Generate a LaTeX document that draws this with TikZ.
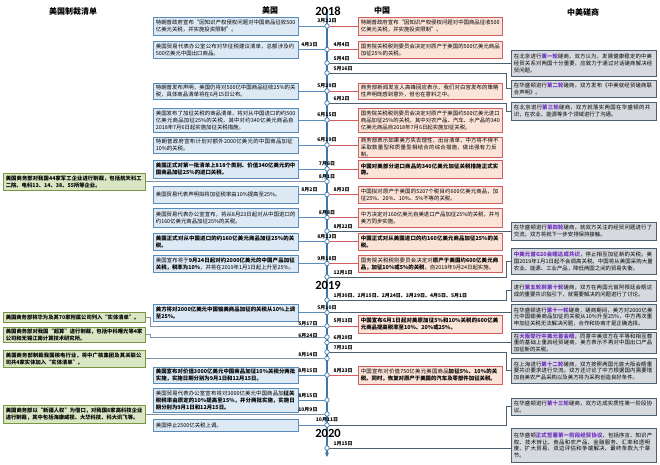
\documentclass[tikz,border=0pt]{standalone}
\usepackage{fontspec}
\setmainfont{Noto Sans CJK SC}
\newfontfamily\yearfont{Carlito}
\usetikzlibrary{arrows.meta}
\XeTeXlinebreaklocale "zh"
\XeTeXlinebreakskip=0pt plus 1pt

\definecolor{tline}{HTML}{3F77A8}
\definecolor{usfill}{HTML}{DDEAF6}
\definecolor{usdraw}{HTML}{5A8CBA}
\definecolor{cnfill}{HTML}{FBE3D8}
\definecolor{cndraw}{HTML}{D25F5F}
\definecolor{csfill}{HTML}{D6D9DE}
\definecolor{csdraw}{HTML}{4F5F72}
\definecolor{gnfill}{HTML}{D9E6C3}
\definecolor{gndraw}{HTML}{7A9645}
\definecolor{gnline}{HTML}{8093AA}
\definecolor{hlc}{HTML}{7030C0}
\newcommand\hilite[1]{\textbf{\color{hlc}#1}}

\tikzset{
  box/.style={draw, line width=0.7pt, anchor=north west, inner xsep=2.5pt, inner ysep=0.5pt,
    align=left, font=\fontsize{5.4}{6.9}\selectfont},
  bbox/.style={font=\bfseries\fontsize{5.4}{6.9}\selectfont},
  usbox/.style={box, fill=usfill, draw=usdraw, text width=140pt},
  cnbox/.style={box, fill=cnfill, draw=cndraw, text width=139pt},
  csbox/.style={box, fill=csfill, draw=csdraw, text width=140pt},
  gnbox/.style={box, fill=gnfill, draw=gndraw, text width=137pt, font=\bfseries\fontsize{5.3}{6.8}\selectfont},
  uslink/.style={draw=usdraw, line width=0.8pt},
  cnlink/.style={draw=cndraw, line width=0.8pt},
  cslink/.style={draw=csdraw, line width=0.8pt},
  gnlink/.style={draw=gnline, line width=0.8pt},
  dot/.style={circle, draw=tline, fill=white, line width=0.7pt, inner sep=0pt, minimum size=4.5pt},
  dlab/.style={inner sep=0.3pt, font=\bfseries\fontsize{5}{5}\selectfont},
  dc/.style={dlab, anchor=south},
  dl/.style={dlab, anchor=south east},
  dr/.style={dlab, anchor=south west},
  head/.style={inner sep=0pt, font=\bfseries\fontsize{8}{8}\selectfont},
  year/.style={inner sep=0pt, font=\yearfont\bfseries\fontsize{12.5}{12.5}\selectfont},
}

\begin{document}
\begin{tikzpicture}[x=1pt,y=-1pt]
\useasboundingbox[fill=white] (0,0) rectangle (660,464);

% headers
\node[head] (h1) at (73,11) {美国制裁清单};
\node[head] (h2) at (270,10) {美国};
\node[head] (h3) at (382,10) {中国};
\node[head] (h4) at (583,12) {中美磋商};

% timeline coordinates
\coordinate (ttop) at (327,9);
\coordinate (tbot) at (327,457);
\coordinate (kx) at (506,0);
\coordinate (gx) at (150,0);
\coordinate (e1) at (327,26);
\coordinate (e2) at (327,49.5);
\coordinate (e3) at (327,63);
\coordinate (e4) at (327,73);
\coordinate (e5) at (327,91);
\coordinate (e6) at (327,103);
\coordinate (e7) at (327,120);
\coordinate (e8) at (327,145);
\coordinate (e9) at (327,169);
\coordinate (e10) at (327,181.5);
\coordinate (e11) at (327,194.5);
\coordinate (e12) at (327,217.5);
\coordinate (e13) at (327,231);
\coordinate (e14) at (327,241.5);
\coordinate (e15) at (327,263.5);
\coordinate (e16) at (327,277);
\coordinate (e17) at (327,300);
\coordinate (e18) at (327,312.5);
\coordinate (e19) at (327,326);
\coordinate (e20) at (327,337);
\coordinate (e21) at (327,342.5);
\coordinate (e22) at (327,352);
\coordinate (e23) at (327,358.5);
\coordinate (e24) at (327,375);
\coordinate (e25) at (327,400);
\coordinate (e26) at (327,414);
\coordinate (e27) at (327,425);
\coordinate (e28) at (327,448);

% US boxes
\node[usbox, minimum height=18pt] (u1) at (153,17) {特朗普政府宣布“因知识产权侵权问题对中国商品征收500亿美元关税，并实施投资限制”。};
\node[usbox, minimum height=17pt] (u2) at (153,41) {美国贸易代表办公室公布对华征税建议清单，总额涉及约500亿美元中国出口商品。};
\node[usbox, minimum height=16pt] (u3) at (153,83) {特朗普发布声明，美国仍将对500亿中国商品征收25\%的关税，具体商品清单将在6月15日公布。};
\node[usbox, minimum height=24pt] (u4) at (153,108) {美国发布了加征关税的商品清单，将对从中国进口的约500亿美元商品加征25\%的关税，其中对约340亿美元商品自2018年7月6日起实施加征关税措施。};
\node[usbox, minimum height=16pt] (u5) at (153,137) {特朗普政府宣布计划对额外2000亿美元的中国商品加征10\%的关税。};
\node[usbox, bbox, minimum height=18pt] (u6) at (153,160) {美国正式对第一批清单上818个类别、价值340亿美元的中国商品加征25\%的进口关税。};
\node[usbox, minimum height=17pt] (u7) at (153,186) {美国贸易代表声明拟将加征税率由10\%提高至25\%。};
\node[usbox, minimum height=19pt] (u8) at (153,208) {美国贸易代表办公室宣布，将从8月23日起对从中国进口的约160亿美元商品加征25\%的关税。};
\node[usbox, bbox, minimum height=17pt] (u9) at (153,233) {美国正式对从中国进口的约160亿美元商品加征25\%的关税。};
\node[usbox, minimum height=17pt] (u10) at (153,255) {美国宣布将于\textbf{9月24日起对约2000亿美元的中国产品加征关税，税率为10\%}，并将在2019年1月1日起上升至25\%。};
\node[usbox, bbox, minimum height=17pt] (u11) at (153,304) {美方将对2000亿美元中国输美商品加征的关税从10\%上调至25\%。};
\node[usbox, bbox, minimum height=16pt] (u12) at (153,367) {美国宣布对价值3000亿美元中国商品加征10\%关税分两批实施，实施日期分别为9月1日和12月15日。};
\node[usbox, minimum height=24pt] (u13) at (153,388) {美国贸易代表办公室宣布将对3000亿美元中国商品加\textbf{征关税税率由原定的10\%提高至15\%，并分两批实施，实施日期分别为9月1日和12月15日。}};
\node[usbox, minimum height=12pt] (u14) at (153,419) {美国停止2500亿关税上调。};

% China boxes
\node[cnbox, minimum height=18pt] (c1) at (358,17) {特朗普政府宣布“因知识产权侵权问题对中国商品征收500亿美元关税，并实施投资限制”。};
\node[cnbox, minimum height=17pt] (c2) at (358,41) {国务院关税税则委员会决定对原产于美国的500亿美元商品加征25\%的关税。};
\node[cnbox, minimum height=16pt] (c3) at (358,83) {商务部新闻发言人高峰回应表示，我们对白宫发布的策略性声明既感到意外，但也在意料之中。};
\node[cnbox, minimum height=24pt] (c4) at (358,108) {国务院关税税则委员会决定对原产于美国约500亿美元进口商品加征25\%的关税，其中对农产品、汽车、水产品的340亿美元商品自2018年7月6日起实施加征关税。};
\node[cnbox, minimum height=16pt] (c5) at (358,137) {商务部表示如果美方失去理性，出台清单，中方将不得不采取数量型和质量型相结合的综合措施，做出强有力反制。};
\node[cnbox, bbox, minimum height=18pt] (c6) at (358,160) {中国对美部分进口商品的340亿美元加征关税措施正式实施。};
\node[cnbox, minimum height=17pt] (c7) at (358,186) {中国拟对原产于美国的5207个税目约600亿美元商品，加征25\%、20\%、10\%、5\%不等的关税。};
\node[cnbox, minimum height=19pt] (c8) at (358,208) {中方决定对160亿美元自美进口产品加征25\%的关税，并与美方同步实施。};
\node[cnbox, bbox, minimum height=17pt] (c9) at (358,233) {中国正式对从美国进口的约160亿美元商品加征25\%的关税。};
\node[cnbox, minimum height=17pt] (c10) at (358,255) {国务院关税税则委员会决定对\textbf{原产于美国约600亿美元商品，加征10\%或5\%的关税}，自2018年9月24日起实施。};
\node[cnbox, bbox, minimum height=18pt] (c11) at (358,315) {中国宣布6月1日起对美原加征5\%和10\%关税的600亿美元商品提高税率至10\%、20\%或25\%。};
\node[cnbox, minimum height=18pt] (c12) at (358,366) {中国宣布对价值750亿美元美国商品\textbf{加征5\%、10\%的关税。同时，恢复对原产于美国的汽车及零部件加征关税。}};

% sanction boxes
\node[gnbox, minimum height=17pt] (g1) at (3,173) {美国商务部对我国44家军工企业进行制裁，包括航天科工二院、电科13、14、38、55所等企业。};
\node[gnbox, minimum height=10pt] (g2) at (3,312) {美国商务部将华为及其70家附属公司列入“实体清单”。};
\node[gnbox, minimum height=15pt] (g3) at (3,327) {美国商务部对我国“超算”进行制裁，包括中科曙光等4家公司和无锡江南计算技术研究所。};
\node[gnbox, minimum height=17pt] (g4) at (3,350) {美国商务部制裁我国核电行业，将中广核集团及其关联公司共4家实体加入“实体清单”。};
\node[gnbox, minimum height=18pt] (g5) at (3,405) {美国商务部以“新疆人权”为借口，对我国8家高科技企业进行制裁，其中包括海康威视、大华科技、科大讯飞等。};

% consultation boxes
\node[csbox, minimum height=26pt] (r1) at (511,50) {在北京进行\hilite{第一轮}磋商，双方认为，发展健康稳定的中美经贸关系对两国十分重要，应致力于通过对话磋商解决经贸问题。};
\node[csbox, minimum height=17pt] (r2) at (511,80) {在华盛顿进行\hilite{第二轮}磋商，双方发布《中美就经贸磋商联合声明》。};
\node[csbox, minimum height=18pt] (r3) at (511,102) {在北京进行\hilite{第三轮}磋商，双方就落实两国在华盛顿的共识，在农业、能源等多个领域进行了沟通。};
\node[csbox, minimum height=18pt] (r4) at (511,222) {在华盛顿进行\hilite{第四轮}磋商，就双方关注的经贸问题进行了交流，双方将就下一步安排保持接触。};
\node[csbox, minimum height=26pt] (r5) at (511,248) {\hilite{中美元首G20会晤达成共识}，停止相互加征新的关税。美国2019年1月1日起不会调高关税。中国将从美国采购大量农业、能源、工业产品，降低两国之间的贸易失衡。};
\node[csbox, minimum height=21pt] (r6) at (511,280) {进行\hilite{第五轮到第十轮}磋商，双方在两国元首阿根廷会晤达成的重要共识指引下，就需要解决的问题进行了讨论。};
\node[csbox, minimum height=25pt] (r7) at (511,304) {在华盛顿进行\hilite{第十一轮}磋商，磋商期间，美方对2000亿美元中国输美商品加征的关税从10\%升至25\%，中方再次重申加征关税无法解决问题，合作和协商才是正确选择。};
\node[csbox, minimum height=21pt] (r8) at (511,332) {在\hilite{大阪举行中美元首会晤}，同意中美双方在平等和相互尊重的基础上重启经贸磋商，美方表示不再对中国出口产品加征新的关税。};
\node[csbox, minimum height=25pt] (r9) at (511,358) {在上海进行\hilite{第十二轮}磋商，双方按照两国元首大阪会晤重要共识要求进行交流。双方还讨论了中方根据国内需要增加自美农产品采购以及美方将为采购创造良好条件。};
\node[csbox, minimum height=17pt] (r10) at (511,398) {在华盛顿进行\hilite{第十三轮}磋商，双方达成实质性第一阶段协议。};
\node[csbox, minimum height=34pt] (r11) at (511,428) {在华盛顿\hilite{正式签署第一阶段经贸协议}，包括序言、知识产权、技术转让、食品和农产品、金融服务、汇率和透明度、扩大贸易、双边评估和争端解决、最终条款九个章节。};

% US links
\draw[uslink] (e1 -| u1.east) -- (e1);
\draw[uslink] (e2 -| u2.east) -- (e2);
\draw[uslink] (e5 -| u3.east) -- (e5);
\draw[uslink] (e7 -| u4.east) -- (e7);
\draw[uslink] (e8 -| u5.east) -- (e8);
\draw[uslink] (e9 -| u6.east) -- (e9);
\draw[uslink] (e11 -| u7.east) -- (e11);
\draw[uslink] (e12 -| u8.east) -- (e12);
\draw[uslink] (e14 -| u9.east) -- (e14);
\draw[uslink] (e15 -| u10.east) -- (e15);
\draw[uslink] (e18 -| u11.east) -- (e18);
\draw[uslink] (e24 -| u12.east) -- (e24);
\draw[uslink] (e25 -| u13.east) -- (e25);
\draw[uslink] (e27 -| u14.east) -- (e27);

% China links
\draw[cnlink] (e1) -- (e1 -| c1.west);
\draw[cnlink] (e2) -- (e2 -| c2.west);
\draw[cnlink] (e5) -- (e5 -| c3.west);
\draw[cnlink] (e7) -- (e7 -| c4.west);
\draw[cnlink] (e8) -- (e8 -| c5.west);
\draw[cnlink] (e9) -- (e9 -| c6.west);
\draw[cnlink] (e11) -- (e11 -| c7.west);
\draw[cnlink] (e12) -- (e12 -| c8.west);
\draw[cnlink] (e14) -- (e14 -| c9.west);
\draw[cnlink] (e15) -- (e15 -| c10.west);
\draw[cnlink] (e19) -- (e19 -| c11.west);
\draw[cnlink] (e24) -- (e24 -| c12.west);

% consultation links
\draw[cslink] (e3) -- (e3 -| r1.west);
\draw[cslink] (e4) -- (e4 -| kx) |- (r2.west);
\draw[cslink] (e6) -- (e6 -| kx) |- (r3.west);
\draw[cslink] (e13) -- (e13 -| r4.west);
\draw[cslink] (e16) -- (e16 -| kx) |- (r5.west);
\draw[cslink] (e17) -- (e17 -| kx) |- (r6.west);
\draw[cslink] (e18) -- (e18 -| r7.west);
\draw[cslink] (e21) -- (e21 -| r8.west);
\draw[cslink] (e22) -- (e22 -| kx) |- (r9.west);
\draw[cslink] (e27) -- (e27 -| kx) |- (r10.west);
\draw[cslink] (e28) -- (e28 -| r11.west);

% sanction links
\draw[gnlink] (e10 -| g1.east) -- (e10);
\draw[gnlink] (g2.east) -- (g2.east -| gx) |- (e19);
\draw[gnlink] (g3.east) -- (g3.east -| gx) |- (e20);
\draw[gnlink] (e23 -| g4.east) -- (e23);
\draw[gnlink] (e26 -| g5.east) -- (e26);

% timeline
\draw[draw=tline, line width=1.4pt, -{Stealth[length=4.5pt,width=4pt]}] (ttop) -- (tbot);
\foreach \i in {1,2,3,4,5,6,7,8,9,10,11,12,13,14,15,16,17,18,19,20,21,22,23,24,25,26,27,28}{
  \node[dot] (dot\i) at (e\i) {};
}

% years
\node[year] (y2018) at (328,11.5) {2018};
\node[year] (y2019) at (328,285) {2019};
\node[year] (y2020) at (328,433) {2020};

% date labels
\node[dc] (l1) at ([yshift=2.5pt]e1) {3月22日};
\node[dl] (l2a) at ([xshift=-9pt,yshift=2pt]e2) {4月3日};
\node[dr] (l2b) at ([xshift=6pt,yshift=2pt]e2) {4月4日};
\node[dr] (l3) at ([xshift=6pt,yshift=2pt]e3) {5月4日};
\node[dr] (l4) at ([xshift=6pt,yshift=2pt]e4) {5月16日};
\node[dc] (l5) at ([yshift=2.5pt]e5) {5月29日};
\node[dr] (l6) at ([xshift=6pt,yshift=2pt]e6) {6月2日};
\node[dc] (l7) at ([yshift=2.5pt]e7) {6月15日};
\node[dc] (l8) at ([yshift=2.5pt]e8) {6月19日};
\node[dc] (l9) at ([yshift=2.5pt]e9) {7月6日};
\node[dc] (l10) at ([yshift=2.5pt]e10) {8月1日};
\node[dl] (l11a) at ([xshift=-9pt,yshift=2pt]e11) {8月2日};
\node[dr] (l11b) at ([xshift=6pt,yshift=2pt]e11) {8月3日};
\node[dc] (l12) at ([yshift=2.5pt]e12) {8月8日};
\node[dr] (l13) at ([xshift=6pt,yshift=2pt]e13) {8月22日};
\node[dc] (l14) at ([yshift=2.5pt]e14) {8月23日};
\node[dc] (l15) at ([yshift=2.5pt]e15) {9月18日};
\node[dr] (l16) at ([xshift=6pt,yshift=2pt]e16) {12月1日};
\node[dr] (l17) at ([xshift=6pt,yshift=2pt]e17) {1月30日、2月15日、2月24日、3月29日、4月5日、5月1日};
\node[dc] (l18) at ([yshift=2.5pt]e18) {5月10日};
\node[dl] (l19a) at ([xshift=-9pt,yshift=-0.5pt]e19) {5月17日};
\node[dr] (l19b) at ([xshift=6pt,yshift=2.5pt]e19) {5月13日};
\node[dl] (l20) at ([xshift=-9pt,yshift=-1pt]e20) {6月24日};
\node[dr] (l21) at ([xshift=6pt,yshift=2pt]e21) {6月29日};
\node[dr] (l22) at ([xshift=6pt,yshift=2pt]e22) {7月31日};
\node[dl] (l23) at ([xshift=-9pt,yshift=1pt]e23) {8月14日};
\node[dl] (l24a) at ([xshift=-9pt,yshift=2pt]e24) {8月15日};
\node[dr] (l24b) at ([xshift=6pt,yshift=2pt]e24) {8月23日};
\node[dl] (l25) at ([xshift=-9pt,yshift=2pt]e25) {8月15日};
\node[dl] (l26) at ([xshift=-9pt,yshift=2pt]e26) {10月9日};
\node[dc] (l27) at ([yshift=2.5pt]e27) {10月11日};
\node[dr] (l28) at ([xshift=6pt,yshift=2pt]e28) {1月15日};
\end{tikzpicture}
\end{document}
